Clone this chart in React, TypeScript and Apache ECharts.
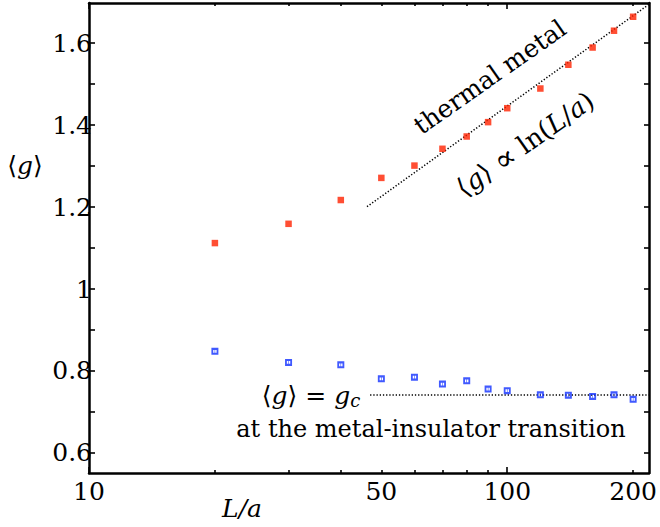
import React, { useEffect, useRef } from "react";
import * as echarts from "echarts";

// System sizes L/a
const sizes = [20, 30, 40, 50, 60, 70, 80, 90, 100, 120, 140, 160, 180, 200];
// Thermal metal <g>
const metalG = [1.112, 1.159, 1.217, 1.271, 1.301, 1.342, 1.372, 1.407, 1.441, 1.489, 1.547, 1.589, 1.63, 1.664];
// Critical <g> at the metal-insulator transition
const criticalG = [0.848, 0.821, 0.815, 0.781, 0.785, 0.768, 0.776, 0.756, 0.752, 0.742, 0.741, 0.738, 0.742, 0.731];
// Fit lines (end points)
const lnFitX = [46.2, 218];
const lnFitY = [1.2007, 1.694];
const gcFitX = [47, 218];
const gcFitY = [0.7415, 0.7415];

const xLabelValues = [10, 50, 100, 200];
const xMinorTicks = [20, 30, 40, 50, 60, 70, 80, 90, 200];
const xMajorTicks = [10, 100];
const yLabelValues = [0.6, 0.8, 1, 1.2, 1.4, 1.6];
const yTickValues = [0.6, 0.7, 0.8, 0.9, 1, 1.1, 1.2, 1.3, 1.4, 1.5, 1.6];

const FONT = "DejaVu Serif";

export default function App() {
  const ref = useRef<HTMLDivElement>(null);
  useEffect(() => {
    if (!ref.current) return;
    const chart = echarts.init(ref.current, undefined, { renderer: "svg" });
    const axLine = { show: true, onZero: false, lineStyle: { color: "#000", width: 2.5 } };
    const mkX = (position: string, ticks: number[], len: number, labels: boolean, line: boolean) => ({
      type: "log",
      logBase: 10,
      min: 10,
      max: 218.2,
      position,
      axisLine: line ? axLine : { show: false },
      axisTick: { show: true, inside: true, length: len, customValues: ticks, lineStyle: { color: "#000", width: 1.6 } },
      axisLabel: labels
        ? { show: true, customValues: xLabelValues, fontFamily: FONT, fontSize: 25, color: "#000", margin: 6 }
        : { show: false },
      splitLine: { show: false },
      minorTick: { show: false },
    });
    const mkY = (position: string, len: number, labels: boolean) => ({
      type: "value",
      min: 0.5512,
      max: 1.6976,
      position,
      axisLine: axLine,
      axisTick: { show: true, inside: true, length: len, customValues: yTickValues, lineStyle: { color: "#000", width: 1.6 } },
      axisLabel: labels
        ? {
            show: true,
            customValues: yLabelValues,
            fontFamily: FONT,
            fontSize: 25,
            color: "#000",
            margin: -3,
            formatter: (v: number) => String(Math.round(v * 10) / 10),
          }
        : { show: false },
      splitLine: { show: false },
    });
    chart.setOption({
      animation: false,
      backgroundColor: "#fff",
      grid: { left: 89, right: 2, top: 3, bottom: 54 },
      xAxis: [
        mkX("bottom", xMinorTicks, 3, true, true),
        mkX("bottom", xMajorTicks, 6, false, false),
        mkX("top", xMinorTicks, 3, false, true),
        mkX("top", xMajorTicks, 6, false, false),
      ],
      yAxis: [mkY("left", 6, true), mkY("right", 5, false)],
      series: [
        {
          type: "line",
          xAxisIndex: 0,
          yAxisIndex: 0,
          data: lnFitX.map((x, i) => [x, lnFitY[i]]),
          showSymbol: false,
          symbol: "none",
          lineStyle: { color: "#000", width: 1.5, type: [1.3, 1.9] },
          z: 1,
        },
        {
          type: "line",
          xAxisIndex: 0,
          yAxisIndex: 0,
          data: gcFitX.map((x, i) => [x, gcFitY[i]]),
          showSymbol: false,
          symbol: "none",
          lineStyle: { color: "#000", width: 1.5, type: [1.3, 1.9] },
          z: 1,
        },
        {
          type: "scatter",
          xAxisIndex: 0,
          yAxisIndex: 0,
          data: sizes.map((x, i) => [x, metalG[i]]),
          symbol: "rect",
          symbolSize: 6.5,
          itemStyle: { color: "#ff2200" },
          z: 3,
        },
        {
          type: "scatter",
          xAxisIndex: 0,
          yAxisIndex: 0,
          data: sizes.map((x, i) => [x, criticalG[i]]),
          symbol: "path://M0,0H7V7H0Z M1.8,2.1V4.9H3.2V2.1Z M3.8,2.1V4.9H5.2V2.1Z",
          symbolSize: 7,
          itemStyle: { color: "#1030ff" },
          z: 3,
        },
      ],
      graphic: [
        {
          type: "text",
          x: 25,
          y: 165,
          style: {
            text: "{n|⟨}{i|g}{n|⟩}",
            align: "center",
            verticalAlign: "middle",
            rich: {
              n: { fontFamily: FONT, fontSize: 25, fill: "#000" },
              i: { fontFamily: FONT, fontStyle: "italic", fontSize: 25, fill: "#000" },
            },
          },
        },
        {
          type: "text",
          x: 242,
          y: 508,
          style: {
            text: "L/a",
            font: `italic 25px '${FONT}'`,
            fill: "#000",
            align: "center",
            verticalAlign: "middle",
          },
        },
        {
          type: "text",
          x: 490,
          y: 77,
          rotation: (35 * Math.PI) / 180,
          style: {
            text: "thermal metal",
            font: `25px '${FONT}'`,
            fill: "#000",
            align: "center",
            verticalAlign: "middle",
          },
        },
        {
          type: "text",
          x: 525,
          y: 144,
          rotation: (35 * Math.PI) / 180,
          style: {
            text: "{n|⟨}{i|g}{n|⟩ }{p|∝}{n| ln(}{i|L}{n|/}{i|a}{n|)}",
            align: "center",
            verticalAlign: "middle",
            rich: {
              n: { fontFamily: FONT, fontSize: 26, fill: "#000" },
              p: { fontFamily: FONT, fontSize: 31, fill: "#000" },
              i: { fontFamily: FONT, fontStyle: "italic", fontSize: 26, fill: "#000" },
            },
          },
        },
        {
          type: "text",
          x: 311,
          y: 395,
          style: {
            text: "{n|⟨}{i|g}{n|⟩ = }{i|g}{s|c}",
            align: "center",
            verticalAlign: "middle",
            rich: {
              n: { fontFamily: FONT, fontSize: 25, fill: "#000" },
              i: { fontFamily: FONT, fontStyle: "italic", fontSize: 25, fill: "#000" },
              s: { fontFamily: FONT, fontStyle: "italic", fontSize: 18, fill: "#000", padding: [11, 0, 0, 0] },
            },
          },
        },
        {
          type: "text",
          x: 431,
          y: 429,
          style: {
            text: "at the metal-insulator transition",
            font: `24px '${FONT}'`,
            fill: "#000",
            align: "center",
            verticalAlign: "middle",
          },
        },
      ],
    });
    return () => chart.dispose();
  }, []);
  return <div ref={ref} style={{ position: "fixed", left: 0, top: 0, width: 660, height: 527 }} />;
}
